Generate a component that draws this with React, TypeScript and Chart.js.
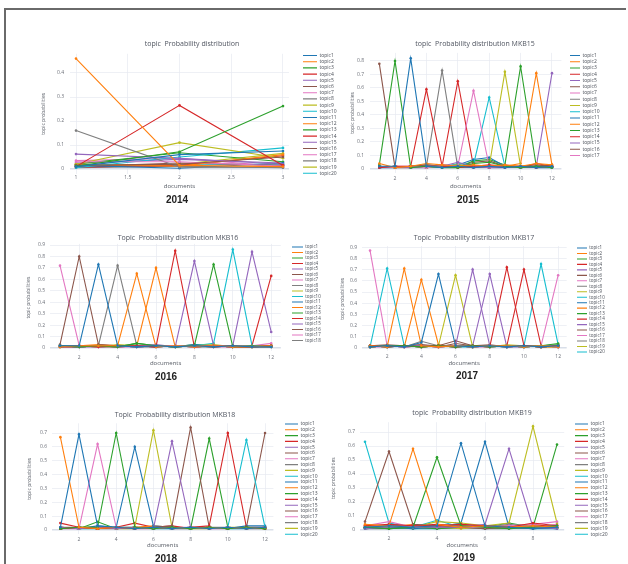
import React, { useEffect, useRef } from "react";
import { Chart, registerables } from "chart.js";

Chart.register(...registerables);

const PALETTE = ["#1f77b4", "#ff7f0e", "#2ca02c", "#d62728", "#9467bd", "#8c564b", "#e377c2", "#7f7f7f", "#bcbd22", "#17becf"];
const FONT = "'Open Sans', 'DejaVu Sans', sans-serif";

// ---------- DATA ----------
const docs2014 = [1, 2, 3];
const xTicks2014 = [1, 1.5, 2, 2.5, 3];
const yTicks2014 = [0, 0.1, 0.2, 0.3, 0.4];
const topics2014: number[][] = [
  [0.010, 0.060, 0.075],
  [0.460, 0.015, 0.010],
  [0.012, 0.072, 0.262],
  [0.010, 0.265, 0.015],
  [0.062, 0.045, 0.020],
  [0.015, 0.020, 0.050],
  [0.030, 0.030, 0.012],
  [0.160, 0.008, 0.006],
  [0.020, 0.110, 0.045],
  [0.005, 0.050, 0.088],
  [0.015, 0.003, 0.025],
  [0.020, 0.012, 0.060],
  [0.020, 0.068, 0.030],
  [0.008, 0.015, 0.055],
  [0.025, 0.040, 0.025],
  [0.010, 0.025, 0.015],
  [0.035, 0.045, 0.010],
  [0.005, 0.012, 0.005],
  [0.015, 0.020, 0.065],
  [0.010, 0.020, 0.020],
];

const docs2015 = [1, 2, 3, 4, 5, 6, 7, 8, 9, 10, 11, 12];
const xTicks2015 = [2, 4, 6, 8, 10, 12];
const yTicks2015 = [0, 0.1, 0.2, 0.3, 0.4, 0.5, 0.6, 0.7, 0.8];
const topics2015: number[][] = [
  [0.02, 0.02, 0.82, 0.02, 0.01, 0.02, 0.01, 0.02, 0.01, 0.02, 0.01, 0.02],
  [0.04, 0.01, 0.02, 0.04, 0.03, 0.02, 0.03, 0.02, 0.03, 0.02, 0.04, 0.03],
  [0.03, 0.80, 0.01, 0.02, 0.01, 0.01, 0.04, 0.05, 0.02, 0.01, 0.02, 0.01],
  [0.01, 0.02, 0.02, 0.59, 0.02, 0.01, 0.02, 0.03, 0.02, 0.02, 0.01, 0.02],
  [0.01, 0.02, 0.01, 0.02, 0.02, 0.05, 0.02, 0.01, 0.02, 0.01, 0.02, 0.01],
  [0.78, 0.01, 0.02, 0.03, 0.02, 0.02, 0.01, 0.02, 0.01, 0.02, 0.03, 0.02],
  [0.02, 0.01, 0.02, 0.01, 0.03, 0.02, 0.58, 0.02, 0.01, 0.02, 0.01, 0.02],
  [0.01, 0.02, 0.01, 0.02, 0.73, 0.01, 0.02, 0.01, 0.02, 0.01, 0.02, 0.01],
  [0.02, 0.01, 0.02, 0.01, 0.02, 0.03, 0.02, 0.02, 0.72, 0.02, 0.01, 0.02],
  [0.01, 0.02, 0.01, 0.02, 0.01, 0.04, 0.03, 0.53, 0.02, 0.01, 0.02, 0.01],
  [0.01, 0.01, 0.02, 0.03, 0.02, 0.03, 0.07, 0.085, 0.02, 0.02, 0.01, 0.01],
  [0.02, 0.01, 0.02, 0.02, 0.01, 0.02, 0.02, 0.01, 0.02, 0.04, 0.71, 0.03],
  [0.01, 0.02, 0.01, 0.02, 0.02, 0.01, 0.06, 0.07, 0.03, 0.76, 0.02, 0.01],
  [0.02, 0.01, 0.02, 0.01, 0.02, 0.65, 0.02, 0.01, 0.02, 0.01, 0.04, 0.02],
  [0.01, 0.02, 0.01, 0.01, 0.02, 0.01, 0.02, 0.01, 0.01, 0.02, 0.02, 0.71],
  [0.02, 0.01, 0.01, 0.02, 0.03, 0.02, 0.05, 0.06, 0.02, 0.01, 0.02, 0.03],
  [0.01, 0.02, 0.02, 0.01, 0.02, 0.03, 0.01, 0.02, 0.03, 0.01, 0.02, 0.02],
];

const docs2016 = [1, 2, 3, 4, 5, 6, 7, 8, 9, 10, 11, 12];
const xTicks2016 = [2, 4, 6, 8, 10, 12];
const yTicks2016 = [0, 0.1, 0.2, 0.3, 0.4, 0.5, 0.6, 0.7, 0.8, 0.9];
const topics2016: number[][] = [
  [0.02, 0.02, 0.73, 0.02, 0.01, 0.02, 0.01, 0.02, 0.01, 0.02, 0.01, 0.01],
  [0.01, 0.02, 0.02, 0.02, 0.65, 0.01, 0.02, 0.01, 0.02, 0.01, 0.01, 0.02],
  [0.02, 0.01, 0.02, 0.01, 0.04, 0.02, 0.01, 0.02, 0.73, 0.01, 0.02, 0.01],
  [0.01, 0.02, 0.01, 0.02, 0.02, 0.01, 0.85, 0.01, 0.02, 0.01, 0.01, 0.02],
  [0.02, 0.01, 0.02, 0.01, 0.02, 0.03, 0.01, 0.76, 0.02, 0.01, 0.02, 0.01],
  [0.03, 0.80, 0.03, 0.02, 0.01, 0.02, 0.01, 0.02, 0.01, 0.02, 0.01, 0.02],
  [0.72, 0.02, 0.01, 0.02, 0.01, 0.02, 0.02, 0.01, 0.02, 0.01, 0.02, 0.01],
  [0.02, 0.01, 0.02, 0.72, 0.02, 0.01, 0.02, 0.01, 0.01, 0.02, 0.01, 0.01],
  [0.01, 0.02, 0.01, 0.03, 0.02, 0.02, 0.01, 0.02, 0.03, 0.01, 0.02, 0.02],
  [0.01, 0.02, 0.01, 0.02, 0.01, 0.02, 0.01, 0.02, 0.04, 0.86, 0.02, 0.01],
  [0.02, 0.01, 0.02, 0.02, 0.01, 0.02, 0.01, 0.03, 0.02, 0.01, 0.01, 0.02],
  [0.01, 0.02, 0.03, 0.02, 0.02, 0.70, 0.01, 0.02, 0.01, 0.02, 0.01, 0.01],
  [0.02, 0.01, 0.02, 0.01, 0.04, 0.02, 0.01, 0.03, 0.02, 0.01, 0.01, 0.02],
  [0.01, 0.01, 0.02, 0.01, 0.02, 0.01, 0.02, 0.01, 0.02, 0.01, 0.02, 0.63],
  [0.02, 0.01, 0.01, 0.02, 0.01, 0.02, 0.01, 0.02, 0.01, 0.02, 0.84, 0.14],
  [0.01, 0.02, 0.01, 0.01, 0.02, 0.01, 0.02, 0.01, 0.02, 0.01, 0.01, 0.02],
  [0.02, 0.01, 0.02, 0.01, 0.01, 0.02, 0.01, 0.02, 0.01, 0.01, 0.02, 0.04],
  [0.01, 0.01, 0.02, 0.02, 0.01, 0.01, 0.02, 0.01, 0.02, 0.02, 0.01, 0.01],
];

const docs2017 = [1, 2, 3, 4, 5, 6, 7, 8, 9, 10, 11, 12];
const xTicks2017 = [2, 4, 6, 8, 10, 12];
const yTicks2017 = [0, 0.1, 0.2, 0.3, 0.4, 0.5, 0.6, 0.7, 0.8, 0.9];
const topics2017: number[][] = [
  [0.01, 0.02, 0.01, 0.05, 0.66, 0.02, 0.01, 0.02, 0.01, 0.02, 0.01, 0.02],
  [0.02, 0.01, 0.71, 0.02, 0.01, 0.02, 0.01, 0.02, 0.02, 0.01, 0.02, 0.01],
  [0.01, 0.02, 0.02, 0.01, 0.02, 0.01, 0.02, 0.01, 0.02, 0.01, 0.02, 0.04],
  [0.02, 0.01, 0.02, 0.01, 0.02, 0.01, 0.02, 0.01, 0.72, 0.02, 0.01, 0.02],
  [0.01, 0.02, 0.01, 0.02, 0.01, 0.02, 0.70, 0.02, 0.01, 0.01, 0.02, 0.01],
  [0.02, 0.03, 0.02, 0.03, 0.02, 0.065, 0.02, 0.03, 0.01, 0.02, 0.01, 0.02],
  [0.87, 0.02, 0.01, 0.02, 0.01, 0.02, 0.01, 0.01, 0.02, 0.01, 0.02, 0.01],
  [0.01, 0.02, 0.01, 0.06, 0.02, 0.01, 0.02, 0.02, 0.01, 0.02, 0.01, 0.02],
  [0.02, 0.01, 0.02, 0.01, 0.02, 0.65, 0.01, 0.02, 0.01, 0.02, 0.01, 0.02],
  [0.01, 0.71, 0.02, 0.01, 0.02, 0.01, 0.02, 0.01, 0.02, 0.01, 0.02, 0.01],
  [0.02, 0.01, 0.02, 0.02, 0.01, 0.02, 0.01, 0.02, 0.01, 0.02, 0.01, 0.02],
  [0.01, 0.02, 0.01, 0.61, 0.03, 0.01, 0.02, 0.01, 0.02, 0.02, 0.01, 0.01],
  [0.02, 0.01, 0.02, 0.01, 0.02, 0.02, 0.01, 0.02, 0.02, 0.01, 0.02, 0.03],
  [0.01, 0.02, 0.01, 0.02, 0.01, 0.02, 0.01, 0.02, 0.02, 0.70, 0.02, 0.01],
  [0.02, 0.01, 0.02, 0.01, 0.02, 0.01, 0.02, 0.66, 0.01, 0.02, 0.01, 0.02],
  [0.01, 0.02, 0.02, 0.03, 0.01, 0.04, 0.02, 0.01, 0.02, 0.01, 0.02, 0.01],
  [0.01, 0.01, 0.02, 0.01, 0.02, 0.01, 0.02, 0.01, 0.02, 0.01, 0.02, 0.65],
  [0.02, 0.02, 0.01, 0.02, 0.01, 0.02, 0.01, 0.02, 0.01, 0.02, 0.01, 0.02],
  [0.01, 0.02, 0.02, 0.01, 0.02, 0.01, 0.02, 0.01, 0.03, 0.02, 0.01, 0.01],
  [0.02, 0.01, 0.02, 0.01, 0.02, 0.01, 0.01, 0.02, 0.01, 0.02, 0.75, 0.03],
];

const docs2018 = [1, 2, 3, 4, 5, 6, 7, 8, 9, 10, 11, 12];
const xTicks2018 = [2, 4, 6, 8, 10, 12];
const yTicks2018 = [0, 0.1, 0.2, 0.3, 0.4, 0.5, 0.6, 0.7];
const topics2018: number[][] = [
  [0.02, 0.69, 0.03, 0.02, 0.01, 0.02, 0.01, 0.02, 0.01, 0.02, 0.01, 0.02],
  [0.67, 0.02, 0.01, 0.02, 0.01, 0.02, 0.01, 0.02, 0.01, 0.02, 0.01, 0.02],
  [0.01, 0.02, 0.02, 0.70, 0.02, 0.01, 0.02, 0.01, 0.02, 0.01, 0.02, 0.01],
  [0.01, 0.02, 0.01, 0.02, 0.01, 0.02, 0.01, 0.02, 0.03, 0.70, 0.02, 0.01],
  [0.02, 0.01, 0.02, 0.01, 0.02, 0.01, 0.64, 0.02, 0.01, 0.02, 0.01, 0.02],
  [0.01, 0.02, 0.01, 0.02, 0.01, 0.02, 0.03, 0.74, 0.02, 0.01, 0.02, 0.01],
  [0.02, 0.01, 0.62, 0.02, 0.01, 0.02, 0.01, 0.02, 0.01, 0.02, 0.01, 0.02],
  [0.01, 0.02, 0.01, 0.02, 0.02, 0.01, 0.02, 0.01, 0.02, 0.01, 0.02, 0.02],
  [0.02, 0.01, 0.02, 0.01, 0.02, 0.72, 0.02, 0.01, 0.02, 0.01, 0.02, 0.01],
  [0.01, 0.02, 0.01, 0.02, 0.01, 0.02, 0.01, 0.02, 0.01, 0.02, 0.65, 0.02],
  [0.02, 0.01, 0.03, 0.02, 0.60, 0.03, 0.02, 0.01, 0.02, 0.01, 0.03, 0.03],
  [0.01, 0.02, 0.02, 0.01, 0.02, 0.03, 0.02, 0.01, 0.02, 0.01, 0.02, 0.01],
  [0.02, 0.01, 0.06, 0.01, 0.02, 0.01, 0.02, 0.01, 0.66, 0.02, 0.01, 0.02],
  [0.05, 0.02, 0.01, 0.02, 0.05, 0.02, 0.03, 0.01, 0.02, 0.01, 0.02, 0.01],
  [0.01, 0.02, 0.01, 0.02, 0.01, 0.02, 0.01, 0.02, 0.01, 0.02, 0.01, 0.02],
  [0.02, 0.01, 0.02, 0.01, 0.02, 0.01, 0.02, 0.01, 0.02, 0.01, 0.02, 0.70],
  [0.01, 0.01, 0.02, 0.02, 0.01, 0.01, 0.02, 0.02, 0.01, 0.01, 0.02, 0.02],
  [0.02, 0.02, 0.01, 0.01, 0.02, 0.02, 0.01, 0.01, 0.02, 0.02, 0.01, 0.01],
  [0.01, 0.02, 0.02, 0.01, 0.01, 0.02, 0.02, 0.01, 0.01, 0.02, 0.02, 0.01],
  [0.02, 0.01, 0.01, 0.02, 0.02, 0.01, 0.01, 0.02, 0.02, 0.01, 0.01, 0.02],
];

const docs2019 = [1, 2, 3, 4, 5, 6, 7, 8, 9];
const xTicks2019 = [2, 4, 6, 8];
const yTicks2019 = [0, 0.1, 0.2, 0.3, 0.4, 0.5, 0.6, 0.7];
const topics2019: number[][] = [
  [0.02, 0.03, 0.02, 0.03, 0.62, 0.03, 0.02, 0.01, 0.02],
  [0.04, 0.03, 0.58, 0.04, 0.02, 0.03, 0.02, 0.03, 0.02],
  [0.02, 0.01, 0.02, 0.52, 0.03, 0.02, 0.01, 0.02, 0.03],
  [0.03, 0.04, 0.03, 0.03, 0.04, 0.03, 0.02, 0.05, 0.03],
  [0.01, 0.02, 0.03, 0.02, 0.02, 0.04, 0.58, 0.02, 0.01],
  [0.06, 0.56, 0.04, 0.03, 0.02, 0.03, 0.02, 0.01, 0.02],
  [0.03, 0.06, 0.02, 0.03, 0.02, 0.02, 0.03, 0.04, 0.06],
  [0.02, 0.03, 0.02, 0.02, 0.03, 0.02, 0.04, 0.02, 0.03],
  [0.02, 0.03, 0.02, 0.06, 0.05, 0.03, 0.05, 0.74, 0.05],
  [0.63, 0.05, 0.02, 0.07, 0.02, 0.03, 0.02, 0.01, 0.02],
  [0.01, 0.02, 0.01, 0.02, 0.05, 0.63, 0.02, 0.02, 0.01],
  [0.03, 0.02, 0.04, 0.02, 0.03, 0.02, 0.03, 0.02, 0.03],
  [0.02, 0.01, 0.02, 0.01, 0.02, 0.02, 0.05, 0.02, 0.61],
  [0.02, 0.03, 0.03, 0.04, 0.03, 0.02, 0.03, 0.04, 0.02],
  [0.03, 0.02, 0.03, 0.02, 0.04, 0.03, 0.02, 0.02, 0.03],
  [0.01, 0.02, 0.03, 0.02, 0.02, 0.01, 0.02, 0.03, 0.02],
  [0.02, 0.04, 0.02, 0.03, 0.02, 0.02, 0.03, 0.02, 0.04],
  [0.01, 0.01, 0.02, 0.01, 0.02, 0.01, 0.01, 0.02, 0.01],
  [0.02, 0.02, 0.01, 0.02, 0.01, 0.02, 0.02, 0.01, 0.02],
  [0.01, 0.02, 0.01, 0.01, 0.02, 0.01, 0.02, 0.01, 0.01],
];

const titles = [
  "topic  Probability distribution",
  "topic  Probability distribution MKB15",
  "Topic  Probability distribution MKB16",
  "Topic  Probability distribution MKB17",
  "Topic  Probability distribution MKB18",
  "topic  Probability distribution MKB19",
];
const years = ["2014", "2015", "2016", "2017", "2018", "2019"];

// ---------- LAYOUT (page coordinates) ----------
type Spec = {
  canvas: { left: number; top: number; width: number; height: number };
  area: { l: number; r: number; t: number; b: number };
  titleX: number; titleY: number;
  legendX: number; legendY: number; legendFont: number; legendSpacing: number; boxWidth: number;
  yTitleX: number; yLabelRight: number; xLabelY: number; xTitleY: number;
  xMin: number; xMax: number; yMin: number; yMax: number;
};

const specs: Spec[] = [
  { canvas: { left: 20, top: 30, width: 340, height: 165 }, area: { l: 70, r: 289, t: 53.8, b: 173.8 },
    titleX: 192, titleY: 44, legendX: 303, legendY: 55.5, legendFont: 5, legendSpacing: 6.2, boxWidth: 14,
    yTitleX: 44, yLabelRight: 64, xLabelY: 178, xTitleY: 186.5, xMin: 0.942, xMax: 3.058, yMin: -0.02, yMax: 0.48 },
  { canvas: { left: 322, top: 30, width: 306, height: 165 }, area: { l: 369.9, r: 561.4, t: 52.9, b: 173 },
    titleX: 475, titleY: 44, legendX: 570, legendY: 55.5, legendFont: 5, legendSpacing: 6.25, boxWidth: 10,
    yTitleX: 353, yLabelRight: 364, xLabelY: 179, xTitleY: 186.5, xMin: 0.4, xMax: 12.6, yMin: -0.03, yMax: 0.86 },
  { canvas: { left: 10, top: 215, width: 340, height: 157 }, area: { l: 50.4, r: 280.8, t: 243.9, b: 351.4 },
    titleX: 178, titleY: 237.7, legendX: 292, legendY: 247, legendFont: 4.5, legendSpacing: 5.5, boxWidth: 11,
    yTitleX: 29, yLabelRight: 45, xLabelY: 358, xTitleY: 363, xMin: 0.5, xMax: 12.5, yMin: -0.03, yMax: 0.91 },
  { canvas: { left: 318, top: 215, width: 310, height: 157 }, area: { l: 361.5, r: 566.7, t: 246.1, b: 351.4 },
    titleX: 474, titleY: 238, legendX: 577, legendY: 248, legendFont: 4.5, legendSpacing: 5.47, boxWidth: 10,
    yTitleX: 343, yLabelRight: 357, xLabelY: 357, xTitleY: 363, xMin: 0.5, xMax: 12.5, yMin: -0.03, yMax: 0.91 },
  { canvas: { left: 10, top: 390, width: 340, height: 165 }, area: { l: 52, r: 273.4, t: 423.3, b: 534.2 },
    titleX: 175, titleY: 415, legendX: 285, legendY: 424, legendFont: 5, legendSpacing: 5.8, boxWidth: 13,
    yTitleX: 30, yLabelRight: 47, xLabelY: 540, xTitleY: 545.7, xMin: 0.55, xMax: 12.45, yMin: -0.03, yMax: 0.77 },
  { canvas: { left: 312, top: 390, width: 316, height: 165 }, area: { l: 360.2, r: 564.2, t: 422.2, b: 534.2 },
    titleX: 472, titleY: 413, legendX: 575, legendY: 424, legendFont: 5, legendSpacing: 5.8, boxWidth: 13,
    yTitleX: 334, yLabelRight: 355, xLabelY: 539, xTitleY: 545.7, xMin: 0.8, xMax: 9.3, yMin: -0.03, yMax: 0.77 },
];

const yearPos = [
  { x: 177, y: 200 }, { x: 468, y: 200 },
  { x: 166, y: 377 }, { x: 467, y: 376 },
  { x: 166, y: 559 }, { x: 464, y: 558 },
];

const GRID = "#e6eaf1";
const ZERO = "#d9dfe9";
const TICK = "#6b6f78";

function fontString(size: number) {
  return `normal ${size}px ${FONT}`;
}

function measureLegendWidth(labels: string[], fs: number, boxWidth: number, pad: number) {
  const cv = document.createElement("canvas");
  const ctx = cv.getContext("2d")!;
  ctx.font = fontString(fs);
  let maxW = 0;
  for (const l of labels) maxW = Math.max(maxW, ctx.measureText(l).width);
  return pad + boxWidth + fs / 2 + maxW + 10;
}

function buildConfig(spec: Spec, title: string, docs: number[], series: number[][], xTicks: number[], yTicks: number[]) {
  const c = spec.canvas;
  const labels = series.map((_, i) => `topic${i + 1}`);
  const legPad = spec.legendSpacing - spec.legendFont;
  const legendW = measureLegendWidth(labels, spec.legendFont, spec.boxWidth, legPad);
  const legendRight = spec.legendX - legPad + legendW;
  const A = 2 * spec.titleX - legendRight;
  const padL = Math.max(0, A - c.left);
  const padR = Math.max(0, c.left + c.width - legendRight);
  const Wy = spec.area.l - A;
  const G = spec.legendX - legPad - spec.area.r;
  const tSize = 7;
  const tLh = tSize * 1.2;
  const titlePadTop = spec.titleY - c.top - tLh / 2;
  const titlePadBottom = spec.area.t - spec.titleY - tLh / 2;
  const xtSize = 6;
  const Hx = spec.xTitleY + (xtSize * 1.2) / 2 - spec.area.b;
  const padB = c.top + c.height - spec.area.b - Hx;
  const tickSize = 5;
  const xTickPad = spec.xLabelY - (tickSize * 1.2) / 2 - spec.area.b;
  const yTickPad = spec.area.l - spec.yLabelRight;
  const ytSize = 5;
  const yTitlePadTop = spec.yTitleX - A - (ytSize * 1.2) / 2;
  // legend starts at the canvas top: push the first entry down with an empty legend title
  const legTitleFont = 1;
  const legTitleH = spec.legendY - c.top - legPad - spec.legendFont / 2;
  const legTitlePad = Math.max(0, legTitleH - legTitleFont * 1.2);

  const datasets = series.map((vals, i) => {
    const col = PALETTE[i % 10];
    return {
      label: labels[i],
      data: docs.map((x, j) => ({ x, y: vals[j] })),
      borderColor: col,
      backgroundColor: col,
      pointBackgroundColor: col,
      borderWidth: 1.1,
      pointRadius: 1.3,
      pointBorderWidth: 0,
      tension: 0,
      clip: false as any,
    };
  });

  const gridLine = (ctx: any) => (ctx.tick && ctx.tick.value === 0 ? 1.6 : 0.7);
  const gridColor = (ctx: any) => (ctx.tick && ctx.tick.value === 0 ? ZERO : GRID);
  const fmt = (v: any) => String(Math.round(Number(v) * 1000) / 1000);

  return {
    type: "line" as const,
    data: { datasets },
    options: {
      responsive: false,
      animation: false as const,
      devicePixelRatio: 1,
      events: [],
      layout: { padding: { left: padL, right: padR, top: 0, bottom: padB } },
      plugins: {
        title: {
          display: true,
          text: title,
          color: "#505560",
          font: { family: FONT, size: tSize, weight: "normal" as const },
          padding: { top: titlePadTop, bottom: titlePadBottom },
        },
        legend: {
          display: true,
          position: "right" as const,
          align: "start" as const,
          maxWidth: legendW + 2,
          title: {
            display: true,
            text: "",
            font: { family: FONT, size: legTitleFont },
            padding: { top: legTitlePad, bottom: 0 },
          },
          labels: {
            boxWidth: spec.boxWidth,
            boxHeight: 0,
            padding: legPad,
            color: "#4a4f58",
            font: { family: FONT, size: spec.legendFont },
          },
        },
        tooltip: { enabled: false },
      },
      scales: {
        x: {
          type: "linear" as const,
          min: spec.xMin,
          max: spec.xMax,
          afterBuildTicks: (s: any) => { s.ticks = xTicks.map((v) => ({ value: v })); },
          afterFit: (s: any) => { s.height = Hx; },
          border: { display: false },
          grid: { color: GRID, lineWidth: 0.7, drawTicks: false },
          ticks: { autoSkip: false, maxRotation: 0, padding: xTickPad, color: TICK, font: { family: FONT, size: tickSize }, callback: fmt },
          title: { display: true, text: "documents", color: "#555a63", font: { family: FONT, size: xtSize }, padding: { top: 0, bottom: 0 } },
        },
        y: {
          type: "linear" as const,
          min: spec.yMin,
          max: spec.yMax,
          afterBuildTicks: (s: any) => { s.ticks = yTicks.map((v) => ({ value: v })); },
          afterFit: (s: any) => { s.width = Wy; },
          border: { display: false },
          grid: { color: gridColor, lineWidth: gridLine, drawTicks: false },
          ticks: { autoSkip: false, padding: yTickPad, color: TICK, font: { family: FONT, size: tickSize }, callback: fmt },
          title: { display: true, text: "topic probabilities", color: "#555a63", font: { family: FONT, size: ytSize }, padding: { top: yTitlePadTop, bottom: 0 } },
        },
        gap: {
          type: "linear" as const,
          position: "right" as const,
          display: true,
          border: { display: false },
          grid: { display: false, drawTicks: false },
          ticks: { display: false },
          afterFit: (s: any) => { s.width = G; },
        },
      },
    },
  };
}

function TopicChart(props: { spec: Spec; title: string; docs: number[]; series: number[][]; xTicks: number[]; yTicks: number[] }) {
  const { spec, title, docs, series, xTicks, yTicks } = props;
  const ref = useRef<HTMLCanvasElement>(null);
  useEffect(() => {
    if (!ref.current) return;
    const chart = new Chart(ref.current, buildConfig(spec, title, docs, series, xTicks, yTicks) as any);
    return () => chart.destroy();
  }, [spec, title, docs, series, xTicks, yTicks]);
  const c = spec.canvas;
  return (
    <canvas
      ref={ref}
      width={c.width}
      height={c.height}
      style={{ position: "absolute", left: c.left, top: c.top, width: c.width, height: c.height }}
    />
  );
}

const allDocs = [docs2014, docs2015, docs2016, docs2017, docs2018, docs2019];
const allTopics = [topics2014, topics2015, topics2016, topics2017, topics2018, topics2019];
const allXTicks = [xTicks2014, xTicks2015, xTicks2016, xTicks2017, xTicks2018, xTicks2019];
const allYTicks = [yTicks2014, yTicks2015, yTicks2016, yTicks2017, yTicks2018, yTicks2019];

export default function App() {
  return (
    <div style={{ position: "absolute", left: 0, top: 0, width: 628, height: 564, background: "#fff", overflow: "hidden" }}>
      <div style={{ position: "absolute", left: 4, top: 8, width: 622, height: 2, background: "#6a6a6a" }} />
      <div style={{ position: "absolute", left: 4, top: 8, width: 2, height: 556, background: "#6a6a6a" }} />
      {specs.map((s, i) => (
        <TopicChart key={i} spec={s} title={titles[i]} docs={allDocs[i]} series={allTopics[i]} xTicks={allXTicks[i]} yTicks={allYTicks[i]} />
      ))}
      {years.map((y, i) => (
        <div
          key={y}
          style={{
            position: "absolute",
            left: yearPos[i].x,
            top: yearPos[i].y,
            transform: "translate(-50%, -50%)",
            fontFamily: "'Liberation Sans', Arial, sans-serif",
            fontWeight: "bold",
            fontSize: 10,
            color: "#222",
            lineHeight: "12px",
            whiteSpace: "nowrap",
          }}
        >
          {y}
        </div>
      ))}
    </div>
  );
}
